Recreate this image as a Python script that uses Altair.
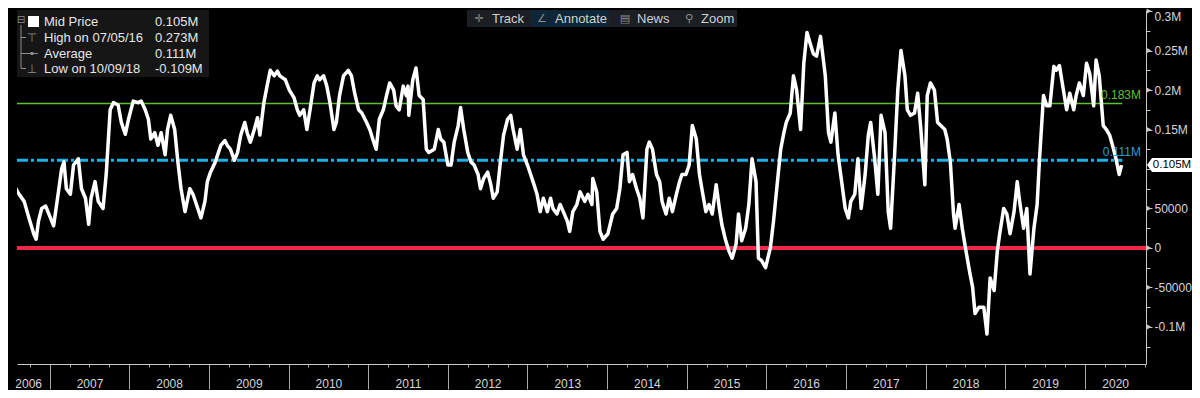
import altair as alt
import pandas as pd

# ---------------- data (decimal year, value in thousands) ----------------
years = [
    2006.49, 2006.55, 2006.61, 2006.68, 2006.74, 2006.80, 2006.83, 2006.86, 2006.90, 2006.95,
    2007.01, 2007.05, 2007.11, 2007.15, 2007.18, 2007.21, 2007.26, 2007.30, 2007.36, 2007.40,
    2007.45, 2007.49, 2007.52, 2007.57, 2007.61, 2007.67, 2007.71, 2007.76, 2007.80, 2007.86,
    2007.90, 2007.95, 2007.99, 2008.05, 2008.11, 2008.15, 2008.20, 2008.24, 2008.27, 2008.32,
    2008.36, 2008.40, 2008.45, 2008.48, 2008.52, 2008.57, 2008.61, 2008.65, 2008.70, 2008.76,
    2008.80, 2008.86, 2008.90, 2008.95, 2008.98,
    2009.02, 2009.08, 2009.15, 2009.20, 2009.23, 2009.27, 2009.32, 2009.36, 2009.40, 2009.45,
    2009.48, 2009.52, 2009.57, 2009.61, 2009.64, 2009.69, 2009.73, 2009.77, 2009.82, 2009.86,
    2009.89, 2009.96, 2010.01, 2010.07, 2010.11, 2010.14, 2010.19, 2010.23, 2010.27, 2010.32,
    2010.36, 2010.39, 2010.44, 2010.48, 2010.52, 2010.57, 2010.60, 2010.64, 2010.69, 2010.75,
    2010.79, 2010.83, 2010.88, 2010.92, 2010.98, 2011.02, 2011.07, 2011.10, 2011.14, 2011.19,
    2011.23, 2011.27, 2011.32,
    2011.35, 2011.39, 2011.44, 2011.48, 2011.50, 2011.51, 2011.56, 2011.60, 2011.64, 2011.69,
    2011.73, 2011.76, 2011.83, 2011.88, 2011.91, 2011.95, 2012.00, 2012.04, 2012.08, 2012.13,
    2012.16, 2012.20, 2012.25, 2012.29, 2012.33, 2012.38, 2012.41, 2012.45, 2012.50, 2012.54,
    2012.57, 2012.62, 2012.66, 2012.70, 2012.75, 2012.79, 2012.82, 2012.87, 2012.91, 2012.95,
    2013.00, 2013.04, 2013.07, 2013.12, 2013.16, 2013.20, 2013.25, 2013.29, 2013.32, 2013.37,
    2013.41, 2013.45, 2013.50, 2013.53, 2013.57, 2013.62, 2013.66, 2013.70,
    2013.72, 2013.76, 2013.81, 2013.82, 2013.87, 2013.91, 2013.95, 2014.01, 2014.07, 2014.12,
    2014.16, 2014.20, 2014.25, 2014.28, 2014.32, 2014.37, 2014.41, 2014.45, 2014.50, 2014.53,
    2014.57, 2014.62, 2014.66, 2014.69, 2014.74, 2014.78, 2014.82, 2014.87, 2014.91, 2014.94,
    2014.99, 2015.03, 2015.07, 2015.12, 2015.16, 2015.19, 2015.24, 2015.28, 2015.32, 2015.37,
    2015.41, 2015.44, 2015.49, 2015.53, 2015.57, 2015.62, 2015.65, 2015.69, 2015.74, 2015.78,
    2015.82, 2015.87, 2015.90, 2015.94, 2015.99, 2016.03,
    2016.05, 2016.09, 2016.13, 2016.18, 2016.22, 2016.25, 2016.30, 2016.34, 2016.38, 2016.43,
    2016.47, 2016.51, 2016.55, 2016.59, 2016.63, 2016.68, 2016.71, 2016.74, 2016.78, 2016.81,
    2016.86, 2016.90, 2016.94, 2016.99, 2017.03, 2017.06, 2017.11, 2017.15, 2017.19, 2017.24,
    2017.28, 2017.31, 2017.36, 2017.40, 2017.44, 2017.49, 2017.53, 2017.56, 2017.61, 2017.65,
    2017.69, 2017.74, 2017.77, 2017.81, 2017.86, 2017.90, 2017.94, 2017.99, 2018.02, 2018.06,
    2018.11, 2018.15, 2018.19, 2018.24, 2018.27, 2018.31, 2018.35, 2018.37, 2018.42, 2018.46,
    2018.50, 2018.55, 2018.59, 2018.62, 2018.67, 2018.73, 2018.77, 2018.81, 2018.86, 2018.90,
    2018.93, 2018.98, 2019.02, 2019.06, 2019.11, 2019.15, 2019.18, 2019.23, 2019.27, 2019.31,
    2019.36, 2019.40, 2019.43, 2019.48, 2019.52, 2019.56, 2019.61, 2019.64, 2019.68, 2019.73,
    2019.77, 2019.81, 2019.86, 2019.89, 2019.93, 2019.98, 2020.02, 2020.06, 2020.11, 2020.14,
    2020.18, 2020.23, 2020.27, 2020.31, 2020.36, 2020.39, 2020.43, 2020.46,
]
values_k = [
    68, 80, 69, 59, 38, 18, 11, 34, 50, 53,
    38, 28, 71, 100, 109, 75, 68, 105, 113, 75,
    63, 30, 63, 84, 59, 50, 93, 175, 184, 181,
    159, 144, 163, 186, 184, 186, 175, 163, 138, 146,
    130, 146, 118, 150, 168, 150, 109, 75, 46, 75,
    68, 50, 38, 59, 84,
    96, 109, 130, 136, 130, 125, 111, 121, 143, 159,
    146, 134, 150, 165, 143, 184, 205, 225, 218, 224,
    218, 213, 200, 190, 175, 168, 175, 150, 175, 209,
    218, 213, 218, 205, 184, 150, 159, 193, 218, 225,
    218, 196, 175, 171, 159, 150, 134, 125, 163, 175,
    193, 209, 200,
    180, 175, 205, 193, 205, 168, 213, 228, 193, 188,
    125, 121, 125, 150, 138, 134, 105, 105, 134, 155,
    178, 150, 121, 109, 105, 93, 75, 88, 96, 80,
    63, 71, 109, 143, 163, 168, 150, 125, 150, 118,
    105, 93, 84, 68, 46, 63, 46, 63, 50, 43,
    55, 46, 34, 21, 46, 55, 71, 63,
    59, 68, 55, 88, 71, 21, 11, 18, 43, 50,
    75, 118, 121, 84, 93, 75, 63, 38, 125, 134,
    125, 93, 84, 59, 43, 63, 46, 68, 84, 93,
    93, 105, 155, 138, 93, 75, 46, 55, 43, 80,
    50, 30, 9, -4, -13, 5, 43, 9, 25, 55,
    113, 84, -13, -16, -25, -8,
    0, 34, 75, 125, 146, 159, 171, 218, 200, 150,
    234, 273, 259, 246, 243, 268, 243, 218, 146, 134,
    171, 118, 88, 50, 38, 59, 68, 113, 50, 93,
    143, 159, 113, 68, 168, 146, 46, 25, 118, 200,
    250, 218, 175, 168, 171, 196, 150, 80, 193, 209,
    200, 159, 155, 150, 138, 109, 43, 25, 55, 25,
    0, -29, -50, -83, -75, -75, -109, -38, -54, -4,
    18, 50, 43, 18, 46, 84, 59, 25, 50, -33,
    25, 55, 113, 193, 180, 180, 230, 225, 231, 200,
    175, 196, 175, 193, 209, 193, 234, 221, 180, 238,
    218, 155, 150, 143, 125, 113, 93, 105,
]

LAST_K = 105
AVG_K = 111
UPPER_K = 183
HIGH_K, HIGH_DATE = 273, "07/05/16"
LOW_K, LOW_DATE = -109, "10/09/18"

X_MIN, X_MAX = 2006.59, 2020.767
Y_MIN, Y_MAX = -147000, 301400
LEVEL_END = 2020.47

year_bounds = list(range(2007, 2021))
year_label_pos = [2006.73] + [y + 0.5 for y in range(2007, 2020)] + [2020.38]
quarter_pos = [y + q for y in range(2006, 2021) for q in (0.25, 0.5, 0.75) if X_MIN < y + q < X_MAX]
y_major = [-100000, -50000, 0, 50000, 150000, 200000, 250000, 300000]
y_minor = [-125000, -75000, -25000, 25000, 75000, 100000, 125000, 175000, 225000, 275000]

df = pd.DataFrame({"t": years, "v": [k * 1000 for k in values_k]})

# ---------------- styles ----------------
FONT = "Liberation Sans"
AX = "#c8c8c8"
TICK = "#a8a8a8"
LBL = "#d6d6d6"
TXT = "#e6e6e6"
GREEN = "#5cc234"
BLUE = "#1fb0e8"
BLUE_TXT = "#2a9fd6"
RED = "#f2284a"

xs = alt.Scale(domain=[X_MIN, X_MAX], nice=False, zero=False)
ys = alt.Scale(domain=[Y_MIN, Y_MAX], nice=False, zero=False)


def fmt_m(k):
    return f"{k / 1000:.3f}M"


# ---------------- main line with main axes ----------------
x_axis_main = alt.Axis(orient="bottom", values=year_bounds, labels=False, tickSize=25,
                       tickColor=TICK, tickWidth=1, domainColor=AX, domainWidth=1,
                       grid=False, title=None)
y_axis_main = alt.Axis(orient="right", values=y_major,
                       labelExpr="abs(datum.value) >= 100000 ? (datum.value / 1000000) + 'M' : '' + datum.value",
                       tickSize=6, tickColor=AX, tickWidth=1, domainColor=AX, domainWidth=1,
                       labelColor=LBL, labelFont=FONT, labelFontSize=12, labelPadding=2,
                       labelFlush=4, labelOverlap=False, grid=False, title=None)

line = alt.Chart(df).mark_line(color="white", strokeWidth=3.5, clip=True, strokeJoin="round").encode(
    x=alt.X("t:Q", scale=xs, axis=x_axis_main),
    y=alt.Y("v:Q", scale=ys, axis=y_axis_main),
)


def ghost(xaxis, yaxis):
    return alt.Chart(df).mark_line(opacity=0).encode(
        x=alt.X("t:Q", scale=xs, axis=xaxis),
        y=alt.Y("v:Q", scale=ys, axis=yaxis),
    )


x_label_axis = ghost(alt.Axis(orient="bottom", values=year_label_pos, labelExpr="floor(datum.value)",
                              ticks=False, tickSize=0, domain=False, labelPadding=14, labelColor=LBL,
                              labelFont=FONT, labelFontSize=12, labelOverlap=False, labelFlush=False,
                              labelBound=False, grid=False, title=None), None)
x_quarter_axis = ghost(alt.Axis(orient="bottom", values=quarter_pos, labels=False, tickSize=3,
                                tickColor=TICK, domain=False, grid=False, title=None), None)
y_minor_axis = ghost(None, alt.Axis(orient="right", values=y_minor, labels=False, tickSize=4,
                                    tickColor=AX, domain=False, grid=False, title=None))

# ---------------- level lines ----------------
upper_df = pd.DataFrame({"v": [UPPER_K * 1000], "t0": [X_MIN], "t1": [LEVEL_END]})
avg_df = pd.DataFrame({"v": [AVG_K * 1000], "t0": [X_MIN], "t1": [LEVEL_END]})
zero_df = pd.DataFrame({"v": [0]})

green = alt.Chart(upper_df).mark_rule(color=GREEN, strokeWidth=1.5).encode(
    x=alt.X("t0:Q", scale=xs, axis=None), x2="t1:Q", y=alt.Y("v:Q", scale=ys, axis=None))
blue = alt.Chart(avg_df).mark_rule(color=BLUE, strokeWidth=3, strokeDash=[11, 3, 3, 3]).encode(
    x=alt.X("t0:Q", scale=xs, axis=None), x2="t1:Q", y=alt.Y("v:Q", scale=ys, axis=None))
red = alt.Chart(zero_df).mark_rule(color=RED, strokeWidth=4).encode(
    y=alt.Y("v:Q", scale=ys, axis=None))

lvl_df = pd.DataFrame({"t": [X_MAX, X_MAX], "v": [UPPER_K * 1000, AVG_K * 1000],
                       "s": [fmt_m(UPPER_K), fmt_m(AVG_K)], "c": [GREEN, BLUE_TXT]})
lvl_text = alt.Chart(lvl_df).mark_text(align="right", baseline="bottom", dx=-5, dy=-1,
                                       font=FONT, fontSize=12).encode(
    x=alt.X("t:Q", scale=xs, axis=None), y=alt.Y("v:Q", scale=ys, axis=None),
    text="s:N", color=alt.Color("c:N", scale=None))

# ---------------- axis markers & last price tag ----------------
tri_df = pd.DataFrame({"t": [X_MAX] * len(y_major), "v": y_major})
tri = alt.Chart(tri_df).mark_point(shape="triangle-right", size=28, filled=True, color=AX,
                                   opacity=1, xOffset=3, strokeWidth=0).encode(
    x=alt.X("t:Q", scale=xs, axis=None), y=alt.Y("v:Q", scale=ys, axis=None))

tag_df = pd.DataFrame({"t": [X_MAX], "v": [LAST_K * 1000], "s": [fmt_m(LAST_K)]})
tag = alt.Chart(tag_df).mark_point(shape="M0,0L0.5,-0.7L4.5,-0.7L4.5,0.7L0.5,0.7Z", size=400,
                                   filled=True, color="white", opacity=1, xOffset=1,
                                   strokeWidth=0).encode(
    x=alt.X("t:Q", scale=xs, axis=None), y=alt.Y("v:Q", scale=ys, axis=None))
tag_text = alt.Chart(tag_df).mark_text(color="black", font=FONT, fontSize=11.5, xOffset=26,
                                       align="center", baseline="middle").encode(
    x=alt.X("t:Q", scale=xs, axis=None), y=alt.Y("v:Q", scale=ys, axis=None), text="s:N")


# ---------------- decorations (legend box, toolbar) ----------------
def txt(s, x, y, size=13, color=TXT, align="left", font=FONT):
    return alt.Chart(pd.DataFrame({"s": [s]})).mark_text(
        align=align, baseline="middle", font=font, fontSize=size, color=color).encode(
        text="s:N", x=alt.value(x), y=alt.value(y))


def box(x1, x2, y1, y2, color):
    return alt.Chart(pd.DataFrame({"a": [0]})).mark_rect(color=color).encode(
        x=alt.value(x1), x2=alt.value(x2), y=alt.value(y1), y2=alt.value(y2))


ICON = "#8c8c8c"
rows = [12, 27.5, 43.5, 58.5]
deco = [
    box(0, 192, 0, 67, "#161616"),
    box(3.5, 4.5, 15, 58.5, ICON),
    box(4, 9, rows[1] - 0.5, rows[1] + 0.5, ICON),
    box(4, 9, rows[2] - 0.5, rows[2] + 0.5, ICON),
    box(4, 9, rows[3] - 0.5, rows[3] + 0.5, ICON),
    txt("⊟", 4, 10, size=10, color=ICON, align="center", font="DejaVu Sans"),
    box(11, 22, 6, 17, "white"),
    txt("⊤", 15, rows[1], size=12, color=ICON, align="center", font="DejaVu Sans"),
    box(9, 21, rows[2] - 0.5, rows[2] + 0.5, ICON),
    box(13.5, 16.5, rows[2] - 1.5, rows[2] + 1.5, ICON),
    txt("⊥", 15, rows[3], size=12, color=ICON, align="center", font="DejaVu Sans"),
    txt("Mid Price", 27, rows[0]),
    txt(f"High on {HIGH_DATE}", 27, rows[1]),
    txt("Average", 27, rows[2]),
    txt(f"Low on {LOW_DATE}", 27, rows[3]),
    txt(fmt_m(LAST_K), 138, rows[0]),
    txt(fmt_m(HIGH_K), 138, rows[1]),
    txt(fmt_m(AVG_K), 138, rows[2]),
    txt(fmt_m(LOW_K), 138, rows[3]),
    # toolbar
    box(450, 720, 0, 17, "#1b1e22"),
    box(514, 592, 0, 17, "#0e2638"),
    txt("✛", 462, 8.5, size=11, color=ICON, align="center", font="DejaVu Sans"),
    txt("Track", 475, 8.5, color="#d0d0d0"),
    txt("∠", 525, 8.5, size=11, color=ICON, align="center", font="DejaVu Sans"),
    txt("Annotate", 538, 8.5, color="#d0d0d0"),
    txt("▤", 608, 8.5, size=11, color=ICON, align="center", font="DejaVu Sans"),
    txt("News", 620, 8.5, color="#d0d0d0"),
    txt("⚲", 672, 8.5, size=11, color=ICON, align="center", font="DejaVu Sans"),
    txt("Zoom", 684, 8.5, color="#d0d0d0"),
]

chart = alt.layer(
    red, green, blue, line, lvl_text, tri, tag, tag_text,
    x_label_axis, x_quarter_axis, y_minor_axis,
    *deco,
).resolve_axis(x="independent", y="independent").properties(
    width=1184, height=382,
    autosize=alt.AutoSizeParams(type="fit", contains="padding"),
    padding=0,
    background="black",
).configure_view(stroke=None)

chart.save("out.html", embed_options={"renderer": "svg", "actions": False})
